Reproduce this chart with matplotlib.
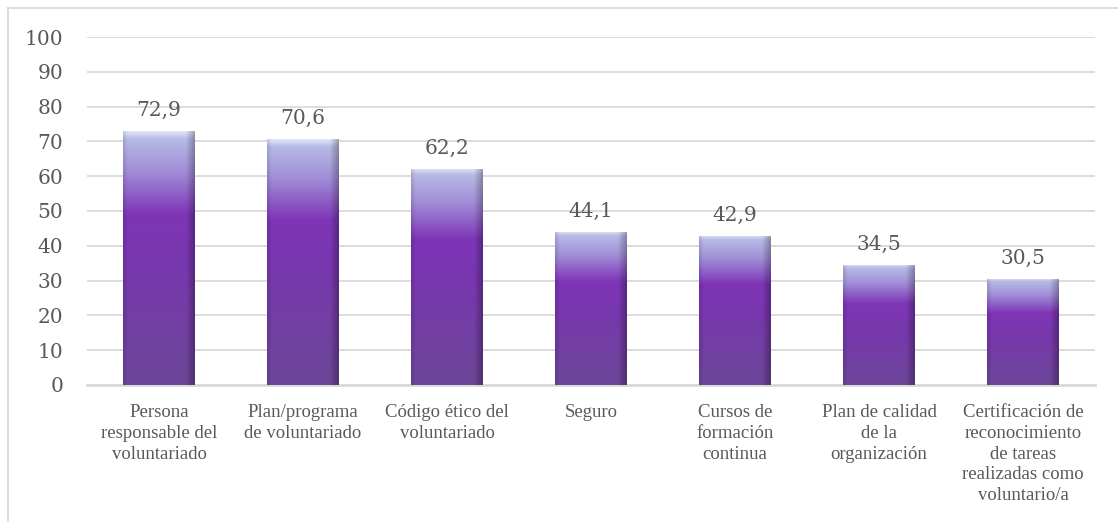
import numpy as np
import matplotlib.pyplot as plt
from matplotlib.lines import Line2D

# --- Data ---
categories = [
    "Persona\nresponsable del\nvoluntariado",
    "Plan/programa\nde voluntariado",
    "Código ético del\nvoluntariado",
    "Seguro",
    "Cursos de\nformación\ncontinua",
    "Plan de calidad\nde la\norganización",
    "Certificación de\nreconocimiento\nde tareas\nrealizadas como\nvoluntario/a",
]
values = [72.9, 70.6, 62.2, 44.1, 42.9, 34.5, 30.5]
yticks = [0, 10, 20, 30, 40, 50, 60, 70, 80, 90, 100]

TEXT = '#595959'
GRID = '#d9d9d9'
NUM_FONT = ['DejaVu Serif']
LBL_FONT = ['Liberation Serif', 'DejaVu Serif']
plt.rcParams['font.family'] = LBL_FONT


def bar_gradient(rows=240, cols=80):
    """Vertical lavender -> purple fade with darker side edges."""
    stops = [
        (0.00, (225, 228, 250)),
        (0.03, (182, 186, 228)),
        (0.16, (160, 140, 215)),
        (0.33, (126, 52, 182)),
        (0.60, (118, 58, 170)),
        (1.00, (108, 70, 152)),
    ]
    t = np.linspace(0, 1, rows)
    pos = [s[0] for s in stops]
    rgb = np.stack([np.interp(t, pos, [s[1][c] for s in stops]) for c in range(3)], axis=-1)
    img = np.repeat(rgb[:, None, :], cols, axis=1) / 255.0
    u = np.linspace(0, 1, cols)
    shade = 1.0 - 0.28 * np.clip((u - 0.88) / 0.12, 0, 1) - 0.12 * np.clip((0.06 - u) / 0.06, 0, 1)
    img = img * shade[None, :, None]
    return np.clip(img, 0, 1)


fig = plt.figure(figsize=(11.18, 5.22), dpi=100)
ax = fig.add_axes([0.0778, 0.2625, 0.9016, 0.6666])

x = np.arange(len(values))
bars = ax.bar(x, values, width=0.5, color='none', edgecolor='none', zorder=2)
grad = bar_gradient()
for b in bars:
    x0, y0 = b.get_x(), b.get_y()
    w, h = b.get_width(), b.get_height()
    # soft shadow under the bar
    ax.bar(x0 + w / 2, 0.9, width=w * 1.04, bottom=-0.9, color='#b0b0b8', alpha=0.5,
           zorder=1.5, edgecolor='none')
    im = ax.imshow(grad, extent=[x0, x0 + w, y0, y0 + h], aspect='auto', zorder=2,
                   interpolation='bilinear')
    im.set_clip_path(b)

for xi, v in zip(x, values):
    ax.annotate(f"{v:.1f}".replace('.', ','), (xi, v), xytext=(0, 8),
                textcoords='offset points', ha='center', va='bottom',
                fontsize=14.5, color=TEXT, family=NUM_FONT)

ax.set_xlim(-0.5, len(values) - 0.5)
ax.set_ylim(0, 100)
ax.set_yticks(yticks)
ax.set_yticklabels([str(t) for t in yticks], fontsize=14.5, color=TEXT, family=NUM_FONT)
ax.set_xticks(x)
ax.set_xticklabels(categories, fontsize=13.5, color=TEXT, linespacing=1.28, va='top')
ax.tick_params(axis='y', length=0, pad=17)
ax.tick_params(axis='x', length=0, pad=14)
ax.grid(axis='y', color=GRID, linewidth=1.3, zorder=0)
ax.set_axisbelow(True)
for s in ['top', 'right', 'left']:
    ax.spines[s].set_visible(False)
ax.spines['bottom'].set_color(GRID)
ax.spines['bottom'].set_linewidth(2)
ax.spines['bottom'].set_zorder(1)

# chart frame (left and top edges visible)
fig.add_artist(Line2D([8 / 1118, 8 / 1118], [0, 1 - 8 / 522], color=GRID, lw=1.3,
                      transform=fig.transFigure))
fig.add_artist(Line2D([8 / 1118, 1], [1 - 8 / 522, 1 - 8 / 522], color=GRID, lw=1.3,
                      transform=fig.transFigure))

fig.savefig('out.png', dpi=100)
